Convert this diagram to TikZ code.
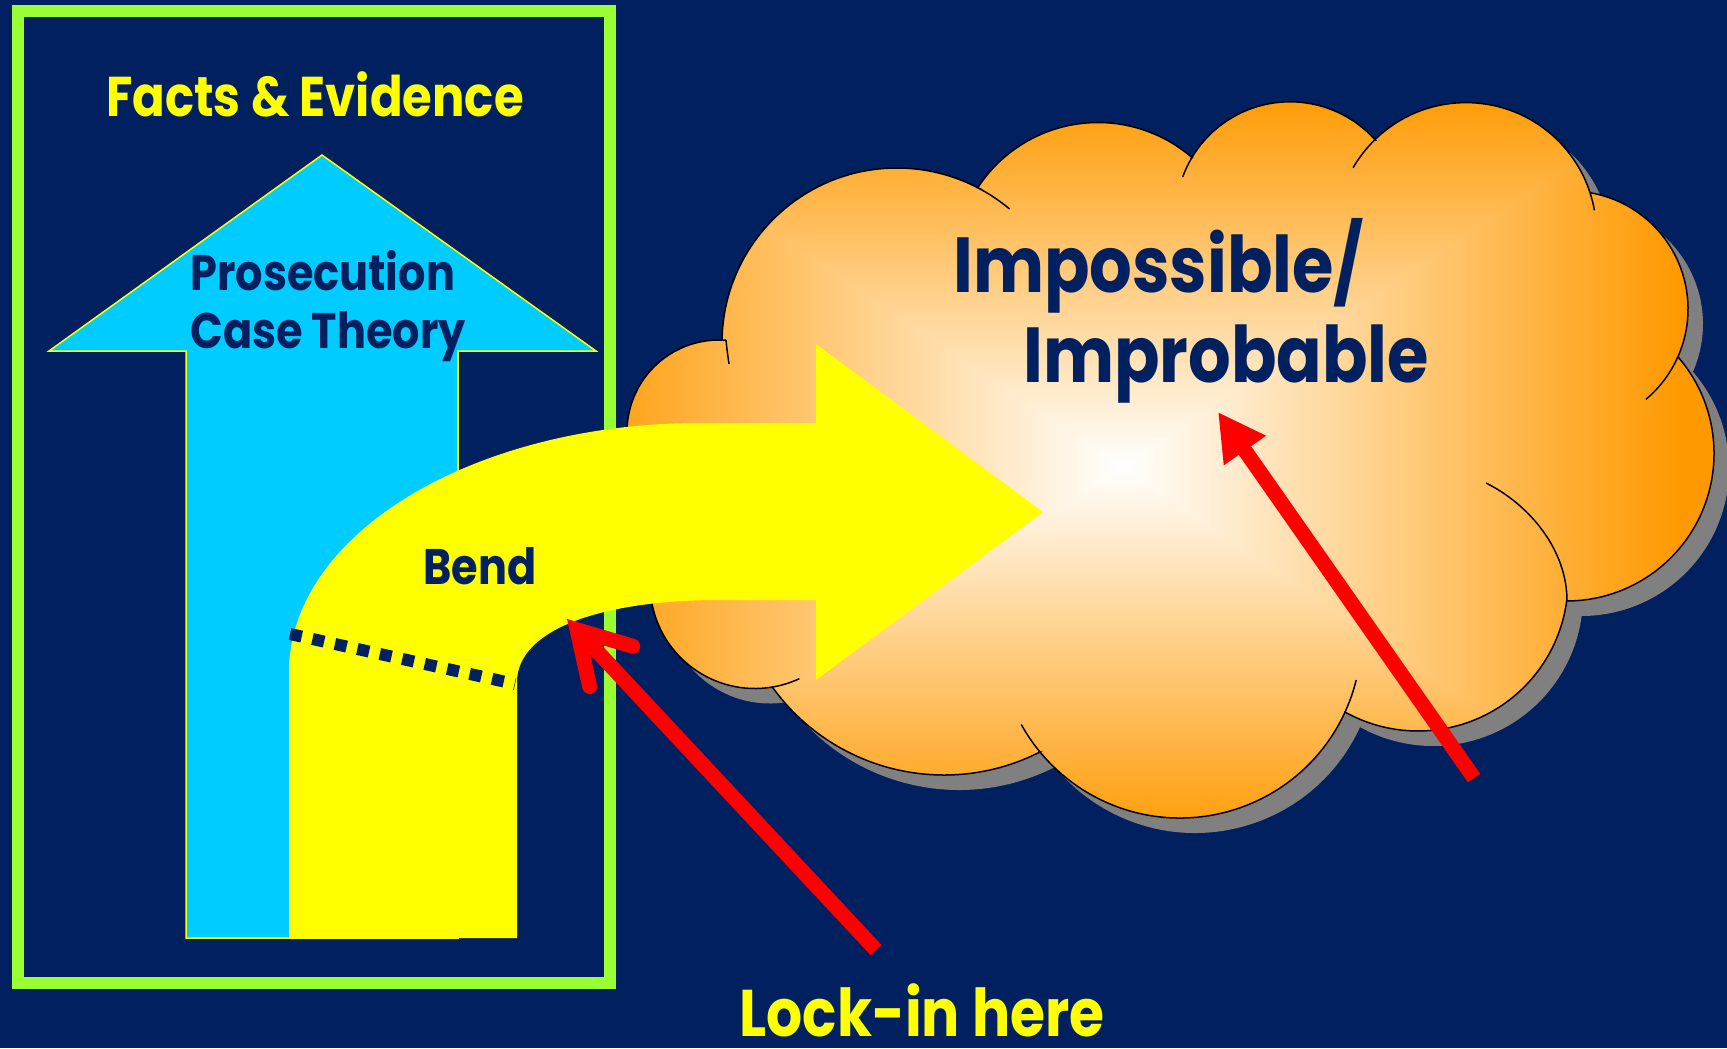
\documentclass[tikz,border=0pt]{standalone}
\usepackage{fontspec}
\setmainfont{Poppins}[FakeStretch=0.86]
\usepackage{xcolor}
\usetikzlibrary{arrows.meta,calc}

\definecolor{slidenavy}{HTML}{002060}
\definecolor{framegreen}{HTML}{99FF33}
\definecolor{theorycyan}{HTML}{00CCFF}
\definecolor{bendyellow}{HTML}{FFFF00}
\definecolor{lockred}{HTML}{FF0000}
\definecolor{shadowgrey}{HTML}{808080}

\pgfdeclarefunctionalshading{cloudglow}{\pgfpoint{-50bp}{-50bp}}{\pgfpoint{50bp}{50bp}}{}{%
  abs exch 2.3 add abs 2 copy lt {exch} if pop
  25 div dup 1 gt {pop 1} if
  dup 0.4 mul 1 exch sub exch 1 exch sub 1 3 1 roll
}

% puff centre x / centre y / radius / start angle / end angle
\newcommand\cloudpuffs{719/432/92/117.1/274.4, 897/343/175/181/297.6,
  1098/266/143.5/213/311, 1290/216/114.2/210.6/318.2, 1466/233/130.4/225.6/342.1,
  1570/309/118/279.8/384, 1566.5/453.5/147.5/319.1/449.8, 1418/581/150/7.6/119.1,
  1180/636.5/181.5/24.6/140.5, 944/563.5/211.5/63/144.3, 755/583.5/105/80.7/221.7}

\begin{document}
\begin{tikzpicture}[x=0.5pt, y=-0.5pt,
    caption/.style={font=\bfseries\fontsize{28}{30}\selectfont, text=bendyellow, inner sep=0pt, anchor=base},
    label/.style={font=\bfseries\fontsize{25}{27}\selectfont, text=slidenavy, inner sep=0pt, anchor=base west},
    cloudtext/.style={font=\bfseries\fontsize{39}{41}\selectfont, text=slidenavy, inner sep=0pt, anchor=base west},
    puffline/.style={draw=black, line width=0.75pt},
    lockarrow/.style={draw=lockred, line width=7.5pt}
]
\useasboundingbox (0,0) rectangle (1727,1048);
\fill[slidenavy] (0,0) rectangle (1727,1048);

\draw[framegreen, line width=6pt] (18,11) rectangle (610,983);

\filldraw[fill=theorycyan, draw=bendyellow, line width=0.75pt]
  (186,938) -- (186,351) -- (49,351) -- (322,155) -- (596,351) -- (458,351) -- (458,938) -- cycle;
\node[label] (prosecution) at (190,290) {Prosecution};
\node[label] (casetheory) at (190,348) {Case Theory};

\fill[shadowgrey, shift={(15,15)}] ($(719,432)+(117.1:92)$)
  \foreach \cx/\cy/\r/\a/\b in \cloudpuffs {-- ($(\cx,\cy)+(\a:\r)$) arc[start angle=\a, end angle=\b, radius=\r]} -- cycle;
\shadedraw[shading=cloudglow, puffline] ($(719,432)+(117.1:92)$)
  \foreach \cx/\cy/\r/\a/\b in \cloudpuffs {-- ($(\cx,\cy)+(\a:\r)$) arc[start angle=\a, end angle=\b, radius=\r]} -- cycle;

\draw[puffline] (726,340) .. controls (727,350) .. (729,364);
\draw[puffline] ($(897,343)+(297.6:175)$) arc[start angle=297.6, end angle=310, radius=175];
\draw[puffline] ($(1290,216)+(210.6:114.2)$) arc[start angle=210.6, end angle=200, radius=114.2];
\draw[puffline] ($(1466,233)+(225.6:130.4)$) arc[start angle=225.6, end angle=210, radius=130.4];
\draw[puffline] ($(1466,233)+(342.1:130.4)$) arc[start angle=342.1, end angle=350, radius=130.4];
\draw[puffline] ($(1570,309)+(24:118)$) arc[start angle=24, end angle=50, radius=118];
\draw[puffline] (1567,601) .. controls (1567,550) and (1530,505) .. (1486,483);
\draw[puffline] ($(1180,636.5)+(24.6:181.5)$) arc[start angle=24.6, end angle=13.9, radius=181.5];
\draw[puffline] ($(1180,636.5)+(140.5:181.5)$) arc[start angle=140.5, end angle=151, radius=181.5];
\draw[puffline] ($(755,583.5)+(80.7:105)$) arc[start angle=80.7, end angle=65, radius=105];

\node[cloudtext] (impossible) at (953,292) {Impossible/};
\node[cloudtext] (improbable) at (1023,382) {Improbable};

\fill[bendyellow] (289,938) -- (289,672) arc[start angle=180, end angle=270, x radius=411, y radius=249]
  -- (816,423) -- (816,344) -- (1043,512) -- (816,680) -- (816,600) -- (720,600)
  .. controls (600,600) and (517,630) .. (517,682) -- (517,938) -- cycle;
\coordinate (bendleft) at (290,634);
\coordinate (bendright) at (515,684);
\draw[slidenavy, line width=6pt, dash pattern=on 6pt off 5.5pt] (bendleft) -- (bendright);
\node[label] (bend) at (423,584) {Bend};

\node[caption] (facts) at (315,117) {Facts \& Evidence};
\node[caption, font=\bfseries\fontsize{33}{35}\selectfont] (lockin) at (922,1036) {Lock-in here};

\coordinate (locktail) at (876,950);
\coordinate (locktip) at (567,619);
\coordinate (probtail) at (1474,778);
\coordinate (probtip) at (1218,412);
\draw[lockarrow, -{Straight Barb[length=25pt, width=29.5pt, line cap=round, line join=miter]}] (locktail) -- (locktip);
\draw[lockarrow, -{Triangle[length=23.5pt, width=24pt]}] (probtail) -- (probtip);
\end{tikzpicture}
\end{document}
